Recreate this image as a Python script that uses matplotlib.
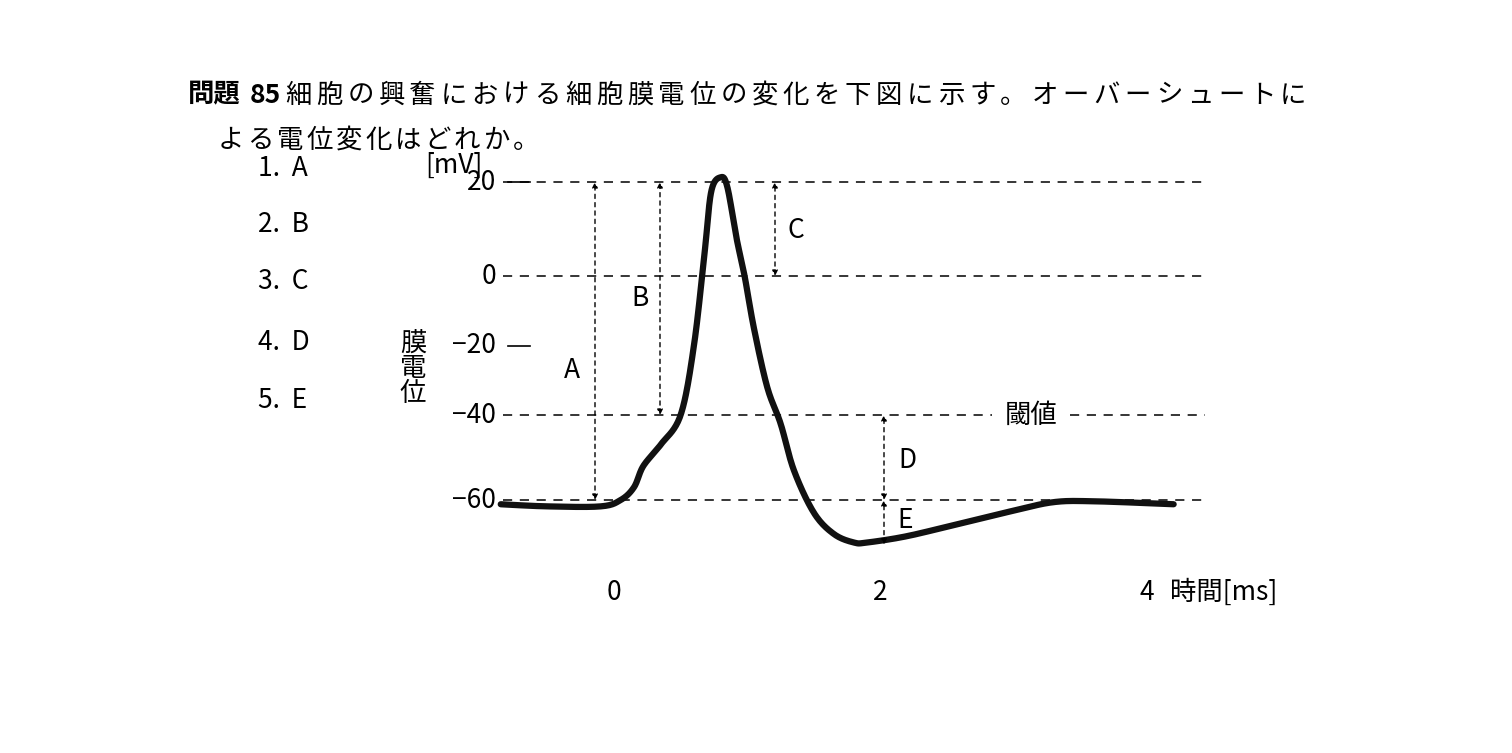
import numpy as np
import matplotlib
matplotlib.use("Agg")
import matplotlib.pyplot as plt

plt.rcParams['font.family'] = ['Noto Sans CJK JP', 'DejaVu Sans']

# data (time ms, membrane potential mV)
t_ms = [-0.85, -0.5, -0.1, 0.05, 0.15, 0.22, 0.35, 0.5, 0.6, 0.68, 0.73, 0.8, 0.85, 0.92, 0.98,
        1.05, 1.15, 1.25, 1.35, 1.5, 1.65, 1.8, 1.9, 2.2, 2.6, 3.0, 3.3, 3.6, 4.2]
v_mv = [-61, -61.5, -61.5, -60, -57, -52, -47, -40, -20, 5, 18, 21, 19, 8, 0,
        -15, -32, -42, -53, -63, -68, -70, -70, -68.5, -65.5, -62.5, -60.5, -60.3, -61]
y_ticks = [20, 0, -20, -40, -60]
y_tick_labels = ["20", "0", "−20", "−40", "−60"]
y_tick_dash = [True, False, True, False, False]
x_ticks = [0, 2, 4]
choices = ["1.  A", "2.  B", "3.  C", "4.  D", "5.  E"]

# schematic (non-linear) vertical scale
lv = [-80, -60, -40, 0, 20, 30]
lp = [585, 500, 415, 276, 182, 135]
def Y(v): return np.interp(v, lv, lp)
def X(t): return 614 + np.asarray(t) * 133.25

fig = plt.figure(figsize=(15.12, 7.53), dpi=100)
ax = fig.add_axes([0, 0, 1, 1])
ax.set_xlim(0, 1512); ax.set_ylim(753, 0); ax.axis('off')

P = np.column_stack([X(t_ms), Y(v_mv)])
P = np.vstack([P[0], P, P[-1]])
pts = []
for i in range(1, len(P) - 2):
    p0, p1, p2, p3 = P[i-1], P[i], P[i+1], P[i+2]
    for s in np.linspace(0, 1, 20, endpoint=False):
        pts.append(0.5 * ((2*p1) + (-p0+p2)*s + (2*p0-5*p1+4*p2-p3)*s**2 + (-p0+3*p1-3*p2+p3)*s**3))
pts.append(P[-2])
pts = np.array(pts)

fs = 19
dash = dict(color='black', lw=1.1, ls=(0, (6, 5)))
for v in [20, 0, -60]:
    ax.plot([503, 1205], [Y(v)] * 2, **dash)
ax.plot([503, 992], [Y(-40)] * 2, **dash)
ax.plot([1070, 1205], [Y(-40)] * 2, **dash)
ax.text(1031, Y(-40), "閾値", fontsize=fs, ha='center', va='center')

ax.plot(pts[:, 0], pts[:, 1], color='#111111', lw=4.5, solid_capstyle='round')

for v, lab, d in zip(y_ticks, y_tick_labels, y_tick_dash):
    ax.text(496, Y(v), lab, fontsize=fs, ha='right', va='center')
    if d:
        ax.plot([508, 530], [Y(v)] * 2, color='black', lw=1.2)
for t in x_ticks:
    ax.text(X(t), 592, str(t), fontsize=fs, ha='center', va='center')
ax.text(1170, 592, "時間[ms]", fontsize=fs, ha='left', va='center')
ax.text(425, 165, "[mV]", fontsize=fs, ha='left', va='center')
for i, ch in enumerate("膜電位"):
    ax.text(413, 343 + i * 25, ch, fontsize=fs, ha='center', va='center')

def arrow(x, v1, v2, label, lx, ly):
    ax.annotate("", xy=(x, Y(v1)), xytext=(x, Y(v2)),
                arrowprops=dict(arrowstyle='<|-|>', lw=1.0, ls=(0, (3, 3)), color='black',
                                mutation_scale=8, shrinkA=0, shrinkB=0))
    ax.text(lx, ly, label, fontsize=fs, ha='center', va='center')

arrow(595, 20, -60, "A", 572, 370)
arrow(660, 20, -40, "B", 640, 298)
arrow(775, 20, 0, "C", 796, 230)
arrow(884, -40, -60, "D", 907, 460)
arrow(884, -60, -70.5, "E", 905, 520)

for i, c in enumerate(choices):
    ax.text(258, [168, 224, 281, 342, 400][i], c, fontsize=fs, ha='left', va='center')

ax.text(188, 95, "問題", fontsize=fs, fontweight='bold', ha='left', va='center')
ax.text(250, 95, "85", fontsize=fs, fontweight='bold', ha='left', va='center')
line1 = "細胞の興奮における細胞膜電位の変化を下図に示す。オーバーシュートに"
for i, ch in enumerate(line1):
    ax.text(285 + i * 31.1, 95, ch, fontsize=fs, ha='left', va='center')
line2 = "よる電位変化はどれか。"
for i, ch in enumerate(line2):
    ax.text(218 + i * 29.5, 140, ch, fontsize=fs, ha='left', va='center')

fig.savefig("out.png", dpi=100)
